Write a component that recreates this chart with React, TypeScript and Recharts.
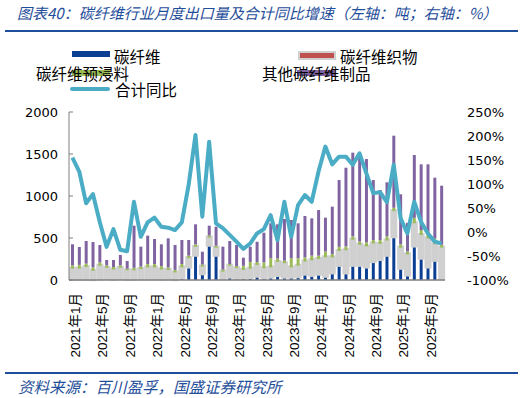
import React from "react";
import { ComposedChart, Bar, Line, XAxis, YAxis } from "recharts";

const months = [
  "2021年1月","2021年2月","2021年3月","2021年4月","2021年5月","2021年6月","2021年7月","2021年8月","2021年9月","2021年10月","2021年11月","2021年12月",
  "2022年1月","2022年2月","2022年3月","2022年4月","2022年5月","2022年6月","2022年7月","2022年8月","2022年9月","2022年10月","2022年11月","2022年12月",
  "2023年1月","2023年2月","2023年3月","2023年4月","2023年5月","2023年6月","2023年7月","2023年8月","2023年9月","2023年10月","2023年11月","2023年12月",
  "2024年1月","2024年2月","2024年3月","2024年4月","2024年5月","2024年6月","2024年7月","2024年8月","2024年9月","2024年10月","2024年11月","2024年12月",
  "2025年1月","2025年2月","2025年3月","2025年4月","2025年5月","2025年6月","2025年7月",
];

const carbonFiber = [15,15,15,10,20,25,15,25,15,15,20,20,20,15,20,10,30,160,300,80,420,300,20,40,25,30,35,50,30,40,60,40,40,45,75,60,75,50,90,180,90,180,180,160,225,250,300,520,145,65,410,265,160,240,20];
const fabric = [120,120,140,100,150,120,110,120,100,100,110,130,130,110,100,80,120,100,95,80,85,85,80,130,115,90,100,130,110,110,155,160,110,125,145,175,175,220,180,165,265,300,240,240,210,180,170,300,240,240,265,270,335,185,365];
const prepreg = [40,45,40,40,40,30,30,30,20,30,30,40,40,40,30,30,40,30,30,25,25,25,25,20,25,50,80,35,70,110,40,30,110,90,50,55,40,70,40,50,45,40,40,50,40,45,50,40,40,35,65,60,40,70,35];
const otherProducts = [250,213,269,302,207,63,83,123,91,502,237,338,298,260,346,297,286,186,238,152,117,225,272,274,252,96,182,241,353,415,408,496,454,415,492,444,543,402,563,795,937,996,1036,990,715,596,643,858,595,340,748,782,842,723,703];
const yoyGrowth = [155,126,60,79,21,-31,6,-37,-40,63,-10,20,30,11,9,4,20,98,202,32,188,18,8,-6,-20,-35,-24,-3,6,35,-17,63,-10,56,77,63,126,178,141,157,157,140,164,122,81,83,62,140,29,-3,63,21,-3,-20,-24];

const leftTicks = [0, 500, 1000, 1500, 2000];
const rightTicks = [-100, -50, 0, 50, 100, 150, 200, 250];

const data = months.map((m, i) => ({
  month: m,
  cf: carbonFiber[i],
  fabric: fabric[i],
  prepreg: prepreg[i],
  other: otherProducts[i],
  yoy: yoyGrowth[i],
}));

const BLUE = "#0b3f94";
const GRAY = "#d0d0d0";
const RED = "#c0504d";
const GREEN = "#9bbb59";
const PURPLE = "#8064a2";
const TEAL = "#4bacc6";
const TITLE_BLUE = "#1f4e9a";

const CJK = "'Noto Sans CJK SC', sans-serif";
const NUM = "'DejaVu Sans', 'Noto Sans CJK SC', sans-serif";
const XNUM = "'Liberation Sans', 'Noto Sans CJK SC', sans-serif";

const XTick = (props: any) => {
  const { x, y, payload } = props;
  return (
    <text
      x={0}
      y={0}
      transform={`translate(${x + 3},${y + 13}) rotate(-90)`}
      textAnchor="end"
      dy="0.35em"
      fontSize={13.5}
      fontFamily={XNUM}
      fill="#000"
    >
      {payload.value}
    </text>
  );
};

const legendText: React.CSSProperties = {
  position: "absolute",
  fontFamily: CJK,
  fontSize: 15.5,
  lineHeight: "18px",
  color: "#000",
  whiteSpace: "nowrap",
};

export default function App() {
  return (
    <div style={{ position: "absolute", left: 0, top: 0, width: 526, height: 398, background: "#fff", overflow: "hidden" }}>
      <ComposedChart
        width={526}
        height={398}
        data={data}
        margin={{ top: 112, right: 0, bottom: 38, left: 0 }}
        style={{ position: "absolute", left: 0, top: 0 }}
      >
        <XAxis
          dataKey="month"
          interval={3}
          height={80}
          tickSize={0}
          tickMargin={0}
          tickLine={false}
          axisLine={{ stroke: "#7f7f7f", strokeWidth: 1.5 }}
          tick={<XTick />}
        />
        <YAxis
          yAxisId="left"
          orientation="left"
          width={69}
          domain={[0, 2000]}
          ticks={leftTicks}
          tickSize={-4}
          tickMargin={15}
          axisLine={{ stroke: "#7f7f7f" }}
          tickLine={{ stroke: "#7f7f7f" }}
          tick={{ fontSize: 13, fontFamily: NUM, fill: "#000" }}
        />
        <YAxis
          yAxisId="right"
          orientation="right"
          width={81}
          domain={[-100, 250]}
          ticks={rightTicks}
          tickSize={0}
          tickMargin={22}
          axisLine={false}
          tickLine={false}
          tickFormatter={(v: number) => `${v}%`}
          tick={{ fontSize: 13, fontFamily: NUM, fill: "#000", textAnchor: "start" }}
        />
        <Bar yAxisId="left" dataKey="cf" stackId="a" fill={BLUE} barSize={3} isAnimationActive={false} />
        <Bar yAxisId="left" dataKey="fabric" stackId="a" fill={RED} stroke={GRAY} strokeWidth={4} barSize={3} isAnimationActive={false} />
        <Bar yAxisId="left" dataKey="prepreg" stackId="a" fill={GREEN} barSize={3} isAnimationActive={false} />
        <Bar yAxisId="left" dataKey="other" stackId="a" fill={PURPLE} barSize={3} isAnimationActive={false} />
        <Line
          yAxisId="right"
          dataKey="yoy"
          type="linear"
          stroke={TEAL}
          strokeWidth={4}
          strokeLinejoin="round"
          dot={false}
          isAnimationActive={false}
        />
      </ComposedChart>

      {/* Title */}
      <div
        style={{
          position: "absolute",
          left: 17,
          top: 3,
          fontFamily: CJK,
          fontStyle: "italic",
          fontSize: 15,
          lineHeight: "20px",
          color: TITLE_BLUE,
          whiteSpace: "nowrap",
        }}
      >
        图表40：碳纤维行业月度出口量及合计同比增速（左轴：吨；右轴：%）
      </div>
      <div style={{ position: "absolute", left: 5, top: 30, width: 513, height: 2, background: TITLE_BLUE }} />

      {/* Legend */}
      <div style={{ position: "absolute", left: 72, top: 51, width: 38, height: 6, background: BLUE }} />
      <div style={{ ...legendText, left: 114, top: 47 }}>碳纤维</div>
      <div style={{ position: "absolute", left: 298, top: 51, width: 34, height: 5, background: RED, border: `2px solid ${GRAY}` }} />
      <div style={{ ...legendText, left: 340, top: 47 }}>碳纤维织物</div>

      <div style={{ position: "absolute", left: 72, top: 70, width: 38, height: 6, background: GREEN }} />
      <div style={{ ...legendText, left: 36, top: 64 }}>碳纤维预浸料</div>
      <div style={{ position: "absolute", left: 297, top: 70, width: 38, height: 6, background: PURPLE }} />
      <div style={{ ...legendText, left: 262, top: 64 }}>其他碳纤维制品</div>

      <div style={{ position: "absolute", left: 70, top: 87, width: 40, height: 4, background: TEAL, borderRadius: 2 }} />
      <div style={{ ...legendText, left: 115, top: 80 }}>合计同比</div>

      {/* Footer */}
      <div style={{ position: "absolute", left: 5, top: 372, width: 513, height: 1.5, background: TITLE_BLUE }} />
      <div
        style={{
          position: "absolute",
          left: 18,
          top: 377,
          fontFamily: CJK,
          fontStyle: "italic",
          fontSize: 15.5,
          lineHeight: "18px",
          color: TITLE_BLUE,
          whiteSpace: "nowrap",
        }}
      >
        资料来源：百川盈孚，国盛证券研究所
      </div>
    </div>
  );
}
